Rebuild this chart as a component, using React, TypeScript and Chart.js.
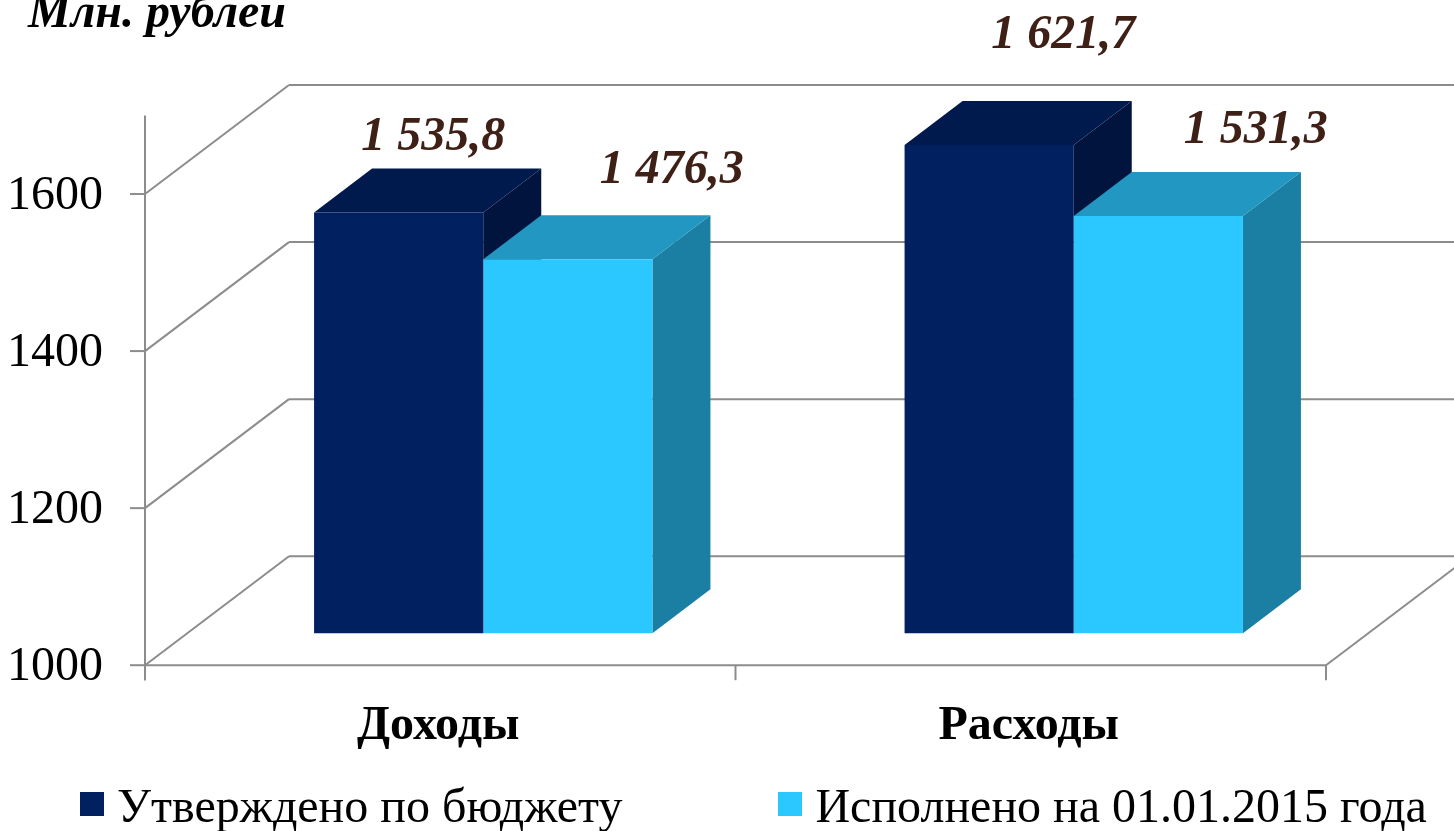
import React, { useEffect, useRef } from "react";
import { Chart, registerables } from "chart.js";

Chart.register(...registerables);

const categories = ["Доходы", "Расходы"];
const approved = [1535.8, 1621.7];
const executed = [1476.3, 1531.3];
const seriesNames = ["Утверждено по бюджету", "Исполнено на 01.01.2015 года"];
const axisTitle = "Млн. рублей";

const SERIF = '"Liberation Serif", "Times New Roman", serif';
const CANVAS_W = 1517;
const CANVAS_H = 843;
const LEGEND_H = 68.2;
const PLANE_LEFT = 188;
const PLANE_RIGHT = 1369;
const PLANE_BOTTOM = 633;
const GRID = "#8c8c8c";
const FRONT = { x: -43, y: 32 };
const WALL = { x: 144, y: -109 };
const BAR_DEPTH = { x: 58, y: -44 };

const faces = [
  { top: "#001A4D", side: "#00143D" },
  { top: "#2197C2", side: "#1B7FA3" },
];
const labelShift = [
  [{ x: 34.5, y: -62 }, { x: 74, y: -97 }],
  [{ x: 104, y: -76 }, { x: 97.5, y: -73 }],
];

const fmt = (v: number) => {
  const [a, b] = v.toFixed(1).split(".");
  return a.replace(/\B(?=(\d{3})+$)/g, " ") + "," + b;
};

const poly = (ctx: CanvasRenderingContext2D, pts: number[][], fill: string) => {
  ctx.beginPath();
  pts.forEach((p, i) => (i ? ctx.lineTo(p[0], p[1]) : ctx.moveTo(p[0], p[1])));
  ctx.closePath();
  ctx.fillStyle = fill;
  ctx.fill();
};

const line = (ctx: CanvasRenderingContext2D, x1: number, y1: number, x2: number, y2: number) => {
  ctx.beginPath();
  ctx.moveTo(x1, y1);
  ctx.lineTo(x2, y2);
  ctx.stroke();
};

// legend swatch: the square sits in the upper part of the image so it lines up with the text's x-height
const swatch = (color: string) => {
  const c = document.createElement("canvas");
  c.width = 24;
  c.height = 34;
  const g = c.getContext("2d") as CanvasRenderingContext2D;
  g.fillStyle = color;
  g.fillRect(0, 0, 24, 24);
  return c;
};

const box3d = {
  id: "box3d",
  beforeDatasetsDraw(chart: any) {
    const { ctx } = chart;
    const ys = chart.scales.y;
    const area = chart.chartArea;
    const fl = area.left + FRONT.x;
    const fr = area.right + FRONT.x;
    ctx.save();
    ctx.strokeStyle = GRID;
    ctx.lineWidth = 2;
    ys.ticks.forEach((t: any) => {
      const fy = ys.getPixelForValue(t.value) + FRONT.y;
      line(ctx, fl, fy, fl + WALL.x, fy + WALL.y);
      line(ctx, fl + WALL.x, fy + WALL.y, fr + WALL.x, fy + WALL.y);
      line(ctx, fl - 15, fy, fl, fy);
    });
    const fb = area.bottom + FRONT.y;
    line(ctx, fl, area.top + FRONT.y, fl, fb + 15);
    line(ctx, fl, fb, fr, fb);
    line(ctx, fr, fb, fr + WALL.x, fb + WALL.y);
    const step = (fr - fl) / categories.length;
    for (let i = 0; i <= categories.length; i++) {
      line(ctx, fl + i * step, fb, fl + i * step, fb + 15);
    }
    // series are painted first to last so the lighter bar's top covers the dark bar's side
    chart.data.datasets.forEach((_: any, di: number) => {
      chart.getDatasetMeta(di).data.forEach((bar: any) => {
        const l = bar.x - bar.width / 2;
        const r = bar.x + bar.width / 2;
        const t = bar.y;
        const b = bar.base;
        const d = BAR_DEPTH;
        poly(ctx, [[r, t], [r + d.x, t + d.y], [r + d.x, b + d.y], [r, b]], faces[di].side);
        poly(ctx, [[l, t], [l + d.x, t + d.y], [r + d.x, t + d.y], [r, t]], faces[di].top);
        bar.draw(ctx, area);
      });
    });
    ctx.restore();
    return false;
  },
  afterDraw(chart: any) {
    const { ctx } = chart;
    ctx.save();
    ctx.textAlign = "center";
    ctx.textBaseline = "alphabetic";
    ctx.font = `italic bold 48px ${SERIF}`;
    ctx.fillStyle = "#3E2016";
    chart.data.datasets.forEach((ds: any, di: number) => {
      chart.getDatasetMeta(di).data.forEach((bar: any, i: number) => {
        const s = labelShift[di][i];
        ctx.fillText(fmt(ds.data[i]), bar.x + s.x, bar.y + s.y);
      });
    });
    ctx.textAlign = "left";
    ctx.fillStyle = "#000";
    ctx.font = `italic bold 48px ${SERIF}`;
    ctx.fillText(axisTitle, 28, 27);
    ctx.restore();
  },
};

export default function App() {
  const ref = useRef<HTMLCanvasElement>(null);
  useEffect(() => {
    const chart = new Chart(ref.current as HTMLCanvasElement, {
      type: "bar",
      data: {
        labels: categories,
        datasets: [
          { label: seriesNames[0], data: approved, backgroundColor: "#00205F", borderWidth: 0, base: 1000 },
          { label: seriesNames[1], data: executed, backgroundColor: "#2BC8FF", borderWidth: 0, base: 1000 },
        ],
      },
      options: {
        responsive: false,
        animation: false,
        devicePixelRatio: 1,
        layout: { padding: { top: 83.5, left: 0, right: 0, bottom: 0 } },
        datasets: { bar: { barPercentage: 1, categoryPercentage: 0.573 } },
        scales: {
          x: {
            grid: { display: false, drawTicks: false },
            border: { display: false },
            ticks: {
              color: "#000",
              font: { family: SERIF, size: 48, weight: "bold" },
              padding: 65,
              labelOffset: -45,
              maxRotation: 0,
              autoSkip: false,
            },
            afterFit: (s: any) => {
              s.height = CANVAS_H - LEGEND_H - PLANE_BOTTOM;
            },
          },
          y: {
            min: 1000,
            max: 1700,
            grid: { display: false, drawTicks: false },
            border: { display: false },
            ticks: {
              stepSize: 200,
              includeBounds: false,
              color: "#000",
              font: { family: SERIF, size: 48 },
              padding: 85,
              labelOffset: 34,
              callback: (v: any) => String(v),
            },
            afterFit: (s: any) => {
              s.width = PLANE_LEFT;
              s.paddingTop = 0;
              s.paddingBottom = 0;
            },
          },
          rightGap: {
            type: "linear",
            position: "right",
            min: 0,
            max: 1,
            grid: { display: false, drawTicks: false },
            border: { display: false },
            ticks: { display: false },
            afterFit: (s: any) => {
              s.width = CANVAS_W - PLANE_RIGHT;
            },
          },
        },
        plugins: {
          tooltip: { enabled: false },
          title: { display: false },
          legend: {
            position: "bottom",
            labels: {
              color: "#000",
              font: { family: SERIF, size: 48 },
              usePointStyle: true,
              boxWidth: 3,
              boxHeight: 24,
              padding: 10,
              generateLabels: (c: any) =>
                c.data.datasets.map((ds: any, i: number) => ({
                  text: i === 0 ? ds.label + " ".repeat(13) : ds.label,
                  fillStyle: ds.backgroundColor,
                  strokeStyle: ds.backgroundColor,
                  lineWidth: 0,
                  pointStyle: swatch(ds.backgroundColor),
                  fontColor: "#000",
                  datasetIndex: i,
                  hidden: false,
                })),
            },
          },
        },
      } as any,
      plugins: [box3d as any],
    });
    return () => chart.destroy();
  }, []);
  return (
    <div style={{ position: "absolute", left: 0, top: 0, width: 1454, height: 831, overflow: "hidden", background: "#fff" }}>
      <canvas ref={ref} width={CANVAS_W} height={CANVAS_H} style={{ display: "block" }} />
    </div>
  );
}
